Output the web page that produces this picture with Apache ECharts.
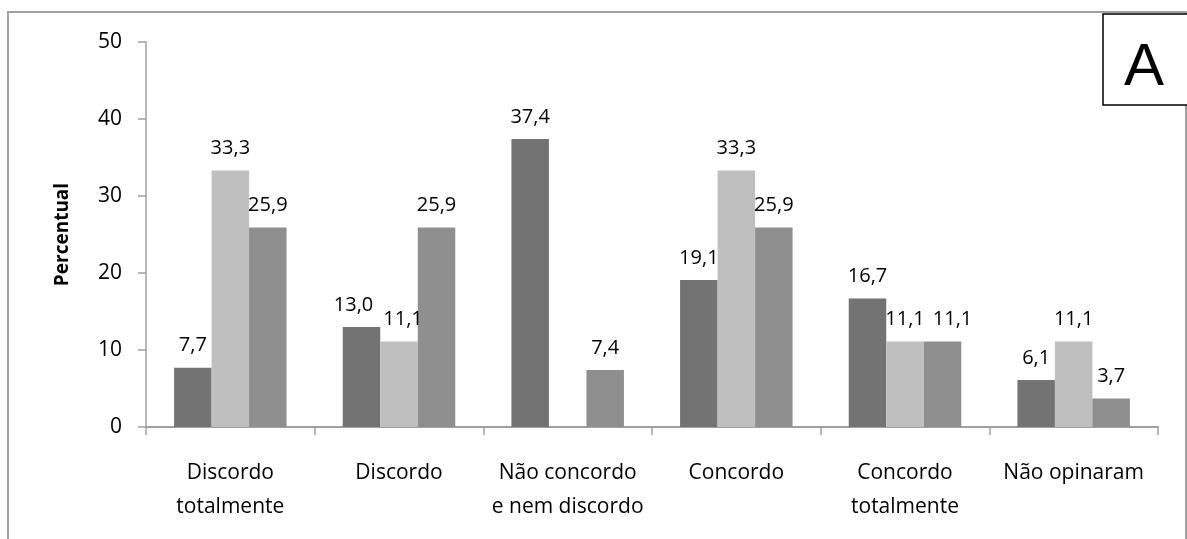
<!DOCTYPE html>
<html>
<head>
<meta charset="utf-8">
<script src="https://cdn.jsdelivr.net/npm/echarts@6/dist/echarts.min.js"></script>
<style>
  html, body { margin: 0; padding: 0; background: #fff; }
  #chart { width: 1187px; height: 539px; }
</style>
</head>
<body>
<div id="chart"></div>
<script>
// Response categories (Likert scale)
const categories = [
  'Discordo\ntotalmente',
  'Discordo',
  'Não concordo\ne nem discordo',
  'Concordo',
  'Concordo\ntotalmente',
  'Não opinaram'
];
// Percent per group
const serieA = [7.7, 13.0, 37.4, 19.1, 16.7, 6.1];
const serieB = [33.3, 11.1, null, 33.3, 11.1, 11.1];
const serieC = [25.9, 25.9, 7.4, 25.9, 11.1, 3.7];
const yTicks = [0, 10, 20, 30, 40, 50];

const FONT = 'Open Sans';
const fmt = p => (p.value == null ? '' : p.value.toFixed(1).replace('.', ','));

// Nudges that keep neighbouring value labels from colliding: {categoryIndex: [dx, dy]}
const labelNudge = [
  { 1: [-8, 0] },
  { 1: [4, 0] },
  { 4: [10, 0] }
];

function bar(data, color, nudge) {
  return {
    type: 'bar',
    data: data.map((v, i) => nudge[i] ? { value: v, label: { offset: nudge[i] } } : v),
    barGap: '0%',
    barCategoryGap: '33.3%',
    itemStyle: { color: color },
    label: {
      show: true,
      position: 'top',
      distance: 12,
      formatter: fmt,
      fontFamily: FONT,
      fontSize: 20,
      color: '#000'
    }
  };
}

const chart = echarts.init(document.getElementById('chart'));
chart.setOption({
  animation: false,
  grid: { left: 146, right: 29, top: 42, bottom: 112 },
  xAxis: {
    type: 'category',
    data: categories,
    axisLine: { lineStyle: { color: '#a0a0a0', width: 2 } },
    axisTick: { show: true, length: 8, lineStyle: { color: '#a0a0a0', width: 1.5 } },
    axisLabel: {
      fontFamily: FONT, fontSize: 21, color: '#000',
      margin: 29, lineHeight: 34, interval: 0
    }
  },
  yAxis: {
    type: 'value',
    min: yTicks[0],
    max: yTicks[yTicks.length - 1],
    interval: 10,
    name: 'Percentual',
    nameLocation: 'middle',
    nameGap: 74,
    nameTextStyle: { fontFamily: FONT, fontSize: 19, fontWeight: 'bold', color: '#000' },
    axisLine: { show: true, lineStyle: { color: '#a0a0a0', width: 1.5 } },
    axisTick: { show: true, length: 8, lineStyle: { color: '#a0a0a0', width: 1.5 } },
    splitLine: { show: false },
    axisLabel: { fontFamily: FONT, fontSize: 21, color: '#000', margin: 24 }
  },
  series: [
    bar(serieA, '#737373', labelNudge[0]),
    bar(serieB, '#bfbfbf', labelNudge[1]),
    bar(serieC, '#8f8f8f', labelNudge[2])
  ],
  graphic: [
    {
      type: 'rect',
      shape: { x: 8, y: 12, width: 1178, height: 560 },
      style: { fill: 'none', stroke: '#a0a0a0', lineWidth: 2 },
      silent: true
    },
    {
      type: 'rect',
      shape: { x: 1103, y: 14, width: 86, height: 91 },
      style: { fill: '#fff', stroke: '#000', lineWidth: 1.5 },
      z: 10
    },
    {
      type: 'text',
      x: 1144, y: 68,
      style: {
        text: 'A', fontFamily: 'Liberation Sans', fontSize: 60, fill: '#000',
        align: 'center', verticalAlign: 'middle'
      },
      z: 11
    }
  ]
});
</script>
</body>
</html>
